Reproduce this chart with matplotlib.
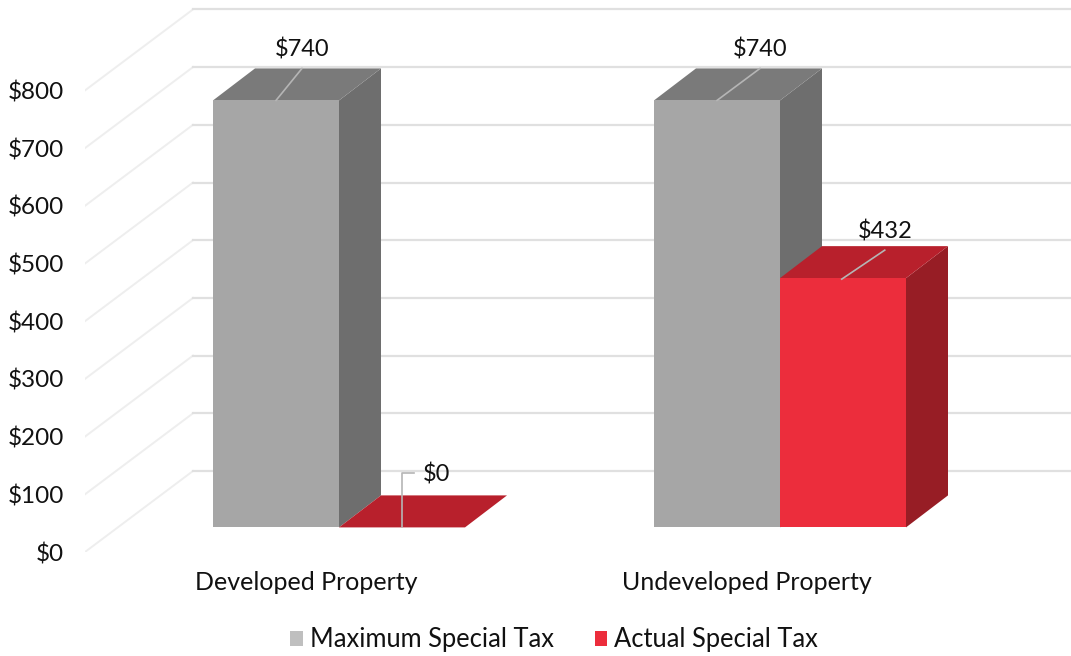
import matplotlib
matplotlib.use("Agg")
import matplotlib.pyplot as plt
from matplotlib.patches import Patch

categories = ["Developed Property", "Undeveloped Property"]
maximum_tax = [740, 740]
actual_tax = [0, 432]
y_ticks = [0, 100, 200, 300, 400, 500, 600, 700, 800]
y_tick_labels = ["$0", "$100", "$200", "$300", "$400", "$500", "$600", "$700", "$800"]
series_names = ["Maximum Special Tax", "Actual Special Tax"]

W, H = 1071, 656
PX_PER_USD = 0.577
GROUP_PX = 441.0
AX_L, AX_BOT = 85, 552
plt.rcParams["font.family"] = ["Lato", "DejaVu Sans"]

fig = plt.figure(figsize=(W / 100, H / 100), dpi=100, facecolor="white")
ax = fig.add_axes([AX_L / W, (H - AX_BOT) / H, 1 - AX_L / W, AX_BOT / H])
ax.set_xlim((AX_L - 306) / GROUP_PX, (W - 306) / GROUP_PX)
ax.set_ylim(0, AX_BOT / PX_PER_USD)
for s in ax.spines.values():
    s.set_visible(False)
ax.patch.set_alpha(0)

def dx(px):
    return px / GROUP_PX

def dv(px):
    return px / PX_PER_USD

# oblique depth of the chart box and of the bars
wall_dx, wall_dv = dx(108), dv(81)
wall_left = ax.get_xlim()[0]
for v in y_ticks:
    ax.plot([wall_left, wall_left + wall_dx], [v, v + wall_dv], color="#eeeeee", lw=1.4, zorder=1)
    ax.plot([wall_left + wall_dx, ax.get_xlim()[1]], [v + wall_dv, v + wall_dv], color="#e0e0e0", lw=1.6, zorder=1)

bar_w = dx(126)
front_dx, front_dv = dx(33), dv(24.6)
depth_dx, depth_dv = dx(42), dv(32)

def box(x_left, value, front, top, side, z):
    x0 = x_left + front_dx
    b = front_dv
    t = b + value
    if value > 0:
        ax.bar(x0, value, width=bar_w, bottom=b, align="edge", color=front, lw=0, zorder=z + 0.2)
        ax.fill([x0 + bar_w, x0 + bar_w + depth_dx, x0 + bar_w + depth_dx, x0 + bar_w],
                [b, b + depth_dv, t + depth_dv, t], color=side, lw=0, zorder=z)
    ax.fill([x0, x0 + depth_dx, x0 + bar_w + depth_dx, x0 + bar_w],
            [t, t + depth_dv, t + depth_dv, t], color=top, lw=0, zorder=z + 0.1)
    return x0, t

LEAD = "#b5b5b5"
LABEL_PT = 17
for i, (m, a) in enumerate(zip(maximum_tax, actual_tax)):
    # grey bar first, red in front of its side face
    x0, t = box(i - bar_w, m, "#a6a6a6", "#7a7a7a", "#6e6e6e", 2)
    mid = x0 + bar_w * 0.5
    ax.plot([mid, mid + dx(26 if i == 0 else 43)], [t, t + depth_dv], color=LEAD, lw=1.2, zorder=4)
    ax.text(mid + dx(26 if i == 0 else 43), t + depth_dv + dv(8), f"${m}", ha="center", va="bottom",
            fontsize=LABEL_PT, color="#111111", zorder=5)

    x1, t1 = box(i, a, "#ec2d3c", "#b8202c", "#971d25", 3)
    if a > 0:
        mid = x1 + bar_w * 0.49
        ax.plot([mid, mid + dx(43)], [t1 + dv(-1), t1 + dv(28)], color=LEAD, lw=1.2, zorder=4)
        ax.text(mid + dx(43), t1 + dv(36), f"${a}", ha="center", va="bottom",
                fontsize=LABEL_PT, color="#111111", zorder=5)
    else:
        mid = x1 + dx(63)
        ax.plot([mid, mid, mid + dx(12)], [t1, t1 + dv(54), t1 + dv(54)], color=LEAD, lw=1.2, zorder=4)
        ax.text(mid + dx(21), t1 + dv(53), f"${a}", ha="left", va="center",
                fontsize=LABEL_PT, color="#111111", zorder=5)

ax.set_yticks(y_ticks)
ax.set_yticklabels(y_tick_labels, fontsize=17.5, color="#111111")
ax.set_xticks(range(len(categories)))
ax.set_xticklabels(categories, fontsize=18, color="#111111")
ax.tick_params(axis="y", length=0, pad=15)
ax.tick_params(axis="x", length=0, pad=14)

handles = [Patch(color="#bfbfbf", lw=0), Patch(color="#ec2d3c", lw=0)]
ax.legend(handles, series_names, ncol=2, loc="center", bbox_to_anchor=(554 / W, (H - 640) / H),
          bbox_transform=fig.transFigure, frameon=False, fontsize=18.4, labelcolor="#111111",
          handlelength=0.5, handleheight=0.5, handletextpad=0.25, columnspacing=1.6,
          borderpad=0, borderaxespad=0)

fig.savefig("out.png", dpi=100)
